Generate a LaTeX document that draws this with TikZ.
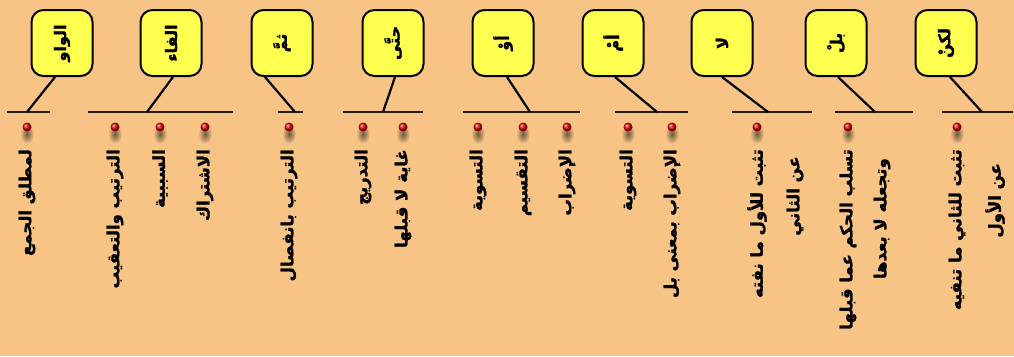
\documentclass[tikz,border=0pt]{standalone}
\usepackage{fontspec}
\newfontfamily\arabicfont[Script=Arabic,FakeBold=1.5]{DejaVu Sans}
\TeXXeTstate=1
\definecolor{bg}{RGB}{248,196,134}
\definecolor{boxyellow}{RGB}{255,255,80}
\definecolor{shadowc}{RGB}{110,90,55}
\tikzset{
  harf/.style={draw=black, line width=2pt, fill=boxyellow, rounded corners=12pt,
    minimum width=61pt, minimum height=66pt, inner sep=0pt},
  harftext/.style={font=\arabicfont\bfseries\fontsize{16}{19}\selectfont, rotate=90},
  conn/.style={line width=2.2pt, black},
  bar/.style={line width=1.6pt, black!80!brown},
  meaning/.style={font=\arabicfont\bfseries\fontsize{16.5}{19}\selectfont, rotate=90, anchor=east, inner sep=0pt},
}
\newcommand{\reddot}[2]{%
  \shade[inner color=shadowc, outer color=bg] (#1,134) ellipse (7pt and 10pt);
  \shade[ball color=red!85!black] (#1,127) circle (4.5pt);
  \coordinate (#2) at (#1,149);
}
\begin{document}
\begin{tikzpicture}[x=1pt,y=-1pt]
\fill[bg] (0,0) rectangle (1014,356);
\useasboundingbox (0,0) rectangle (1014,356);

% boxes
\node[harf] (b1) at (62,43) {};
\node[harf] (b2) at (171,43) {};
\node[harf] (b3) at (282,43) {};
\node[harf] (b4) at (393,43) {};
\node[harf] (b5) at (503,43) {};
\node[harf] (b6) at (613,43) {};
\node[harf] (b7) at (722,43) {};
\node[harf] (b8) at (836,43) {};
\node[harf] (b9) at (946,43) {};
\node[harftext] (h1) at (b1) {\beginR الواو\endR};
\node[harftext] (h2) at (b2) {\beginR الفاء\endR};
\node[harftext] (h3) at (b3) {\beginR ثمَّ\endR};
\node[harftext] (h4) at (b4) {\beginR حتَّى\endR};
\node[harftext] (h5) at (b5) {\beginR أوْ\endR};
\node[harftext] (h6) at (b6) {\beginR أمْ\endR};
\node[harftext] (h7) at (b7) {\beginR لا\endR};
\node[harftext] (h8) at (b8) {\beginR بلْ\endR};
\node[harftext] (h9) at (b9) {\beginR لكنْ\endR};

% junctions and bar ends
\coordinate (j1) at (27,112);  \coordinate (l1a) at (7,112);   \coordinate (l1b) at (50,112);
\coordinate (j2) at (147,112); \coordinate (l2a) at (88,112);  \coordinate (l2b) at (233,112);
\coordinate (j3) at (295,112); \coordinate (l3a) at (278,112); \coordinate (l3b) at (303,112);
\coordinate (j4) at (383,112); \coordinate (l4a) at (343,112); \coordinate (l4b) at (423,112);
\coordinate (j5) at (530,112); \coordinate (l5a) at (463,112); \coordinate (l5b) at (580,112);
\coordinate (j6) at (657,112); \coordinate (l6a) at (615,112); \coordinate (l6b) at (688,112);
\coordinate (j7) at (768,112); \coordinate (l7a) at (732,112); \coordinate (l7b) at (812,112);
\coordinate (j8) at (875,112); \coordinate (l8a) at (835,112); \coordinate (l8b) at (913,112);
\coordinate (j9) at (982,112); \coordinate (l9a) at (942,112); \coordinate (l9b) at (1013,112);

\foreach \i in {1,...,9} {\draw[bar] (l\i a) -- (l\i b);}

\draw[conn] ([xshift=-7pt]b1.south) -- (j1);
\draw[conn] ([xshift=2pt]b2.south) -- (j2);
\draw[conn] ([xshift=-17pt]b3.south) -- (j3);
\draw[conn] ([xshift=2pt]b4.south) -- (j4);
\draw[conn] ([xshift=4pt]b5.south) -- (j5);
\draw[conn] ([xshift=2pt]b6.south) -- (j6);
\draw[conn] ([xshift=0pt]b7.south) -- (j7);
\draw[conn] ([xshift=2pt]b8.south) -- (j8);
\draw[conn] ([xshift=4pt]b9.south) -- (j9);

% dots
\reddot{27}{d11}
\reddot{115}{d21}\reddot{160}{d22}\reddot{205}{d23}
\reddot{289}{d31}
\reddot{363}{d41}\reddot{403}{d42}
\reddot{478}{d51}\reddot{523}{d52}\reddot{567}{d53}
\reddot{628}{d61}\reddot{672}{d62}
\reddot{757}{d71}
\reddot{848}{d81}
\reddot{957}{d91}
\coordinate (e71) at (795,156);
\coordinate (e81) at (882,158);
\coordinate (e91) at (995,163);

% meanings
\node[meaning] (m11) at (d11) {\beginR لمطلق الجمع\endR};
\node[meaning] (m21) at (d21) {\beginR الترتيب والتعقيب\endR};
\node[meaning] (m22) at (d22) {\beginR السببية\endR};
\node[meaning] (m23) at (d23) {\beginR الاشتراك\endR};
\node[meaning] (m31) at (d31) {\beginR الترتيب بانفصال\endR};
\node[meaning] (m41) at (d41) {\beginR التدريج\endR};
\node[meaning] (m42) at (d42) {\beginR غاية لا قبلها\endR};
\node[meaning] (m51) at (d51) {\beginR التسوية\endR};
\node[meaning] (m52) at (d52) {\beginR التقسيم\endR};
\node[meaning] (m53) at (d53) {\beginR الإضراب\endR};
\node[meaning] (m61) at (d61) {\beginR التسوية\endR};
\node[meaning] (m62) at (d62) {\beginR الإضراب بمعنى بل\endR};
\node[meaning] (m71) at (d71) {\beginR تثبت للأول ما نفته\endR};
\node[meaning] (m72) at (e71) {\beginR عن الثاني\endR};
\node[meaning] (m81) at (d81) {\beginR تسلب الحكم عما قبلها\endR};
\node[meaning] (m82) at (e81) {\beginR وتجعله لا بعدها\endR};
\node[meaning] (m91) at (d91) {\beginR تثبت للثاني ما تنفيه\endR};
\node[meaning] (m92) at (e91) {\beginR عن الأول\endR};
\end{tikzpicture}
\end{document}
